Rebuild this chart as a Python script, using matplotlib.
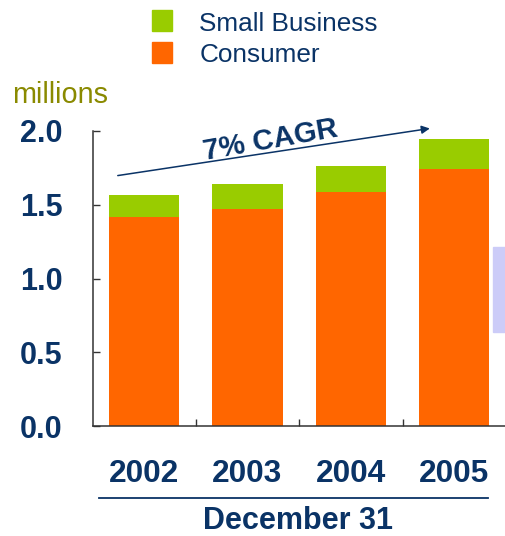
import matplotlib.pyplot as plt
from matplotlib.patches import Rectangle
from matplotlib.ticker import FixedLocator
import numpy as np

# subscribers at December 31, in millions
years = ['2002', '2003', '2004', '2005']
consumer = [1.417, 1.471, 1.586, 1.742]
small_business = [0.149, 0.170, 0.177, 0.204]
y_ticks = [0.0, 0.5, 1.0, 1.5, 2.0]

navy = '#0a3366'
orange = '#ff6600'
green = '#99cc00'
plt.rcParams['font.family'] = ['Liberation Sans', 'DejaVu Sans']

fig = plt.figure(figsize=(5.06, 5.36), dpi=100)
ax = fig.add_axes([93 / 506, 110 / 536, 413 / 506, 295 / 536])

x = np.arange(len(years))
ax.bar(x, consumer, width=0.68, color=orange, zorder=2)
ax.bar(x, small_business, width=0.68, bottom=consumer, color=green, zorder=2)

ax.set_xlim(-0.493, 3.5)
ax.set_ylim(0, 2.0)
ax.set_yticks(y_ticks)
ax.set_yticklabels(['%.1f' % v for v in y_ticks], fontsize=22, fontweight='bold', color=navy)
ax.set_xticks(x)
ax.set_xticklabels(years, fontsize=22.8, fontweight='bold', color=navy)
ax.xaxis.set_minor_locator(FixedLocator([0.5, 1.5, 2.5]))
ax.tick_params(axis='x', which='major', length=0, pad=24)
ax.tick_params(axis='x', which='minor', direction='in', length=5, width=1, color='#333333')
ax.tick_params(axis='y', direction='in', length=5, width=1, color='#333333', pad=22)

for side in ['top', 'right']:
    ax.spines[side].set_visible(False)
for side in ['left', 'bottom']:
    ax.spines[side].set_color('#333333')
    ax.spines[side].set_linewidth(1.1)

# growth arrow
ax.annotate('', xy=(2.79, 2.02), xytext=(-0.28, 1.695), annotation_clip=False,
            arrowprops=dict(arrowstyle='-|>', color=navy, lw=1.1, mutation_scale=12))
ax.text(1.22, 1.935, '7% CAGR', rotation=10, fontsize=21, fontweight='bold', color=navy,
        ha='center', va='center', clip_on=False)

# units and date caption
fig.text(12 / 506, 1 - 95 / 536, 'millions', fontsize=20.8, color='#8a8a00', ha='left', va='center')
fig.lines.append(plt.Line2D([99 / 506, 488 / 506], [1 - 498 / 536] * 2, transform=fig.transFigure,
                            color=navy, lw=1.3))
fig.text(298 / 506, 1 - 521 / 536, 'December 31', fontsize=22, fontweight='bold', color=navy,
         ha='center', va='center')

# legend
fig.patches.append(Rectangle((152 / 506, 1 - 31 / 536), 20 / 506, 21 / 536, transform=fig.transFigure,
                             color=green))
fig.patches.append(Rectangle((152 / 506, 1 - 63 / 536), 20 / 506, 21 / 536, transform=fig.transFigure,
                             color=orange))
fig.text(199 / 506, 1 - 24 / 536, 'Small Business', fontsize=18.8, color=navy, ha='left', va='center')
fig.text(200 / 506, 1 - 55 / 536, 'Consumer', fontsize=18.8, color=navy, ha='left', va='center')

# side panel edge
fig.patches.append(Rectangle((493 / 506, 1 - 332 / 536), 13 / 506, 85 / 536, transform=fig.transFigure,
                             color='#ccccf8'))

fig.savefig('out.png', dpi=100)
